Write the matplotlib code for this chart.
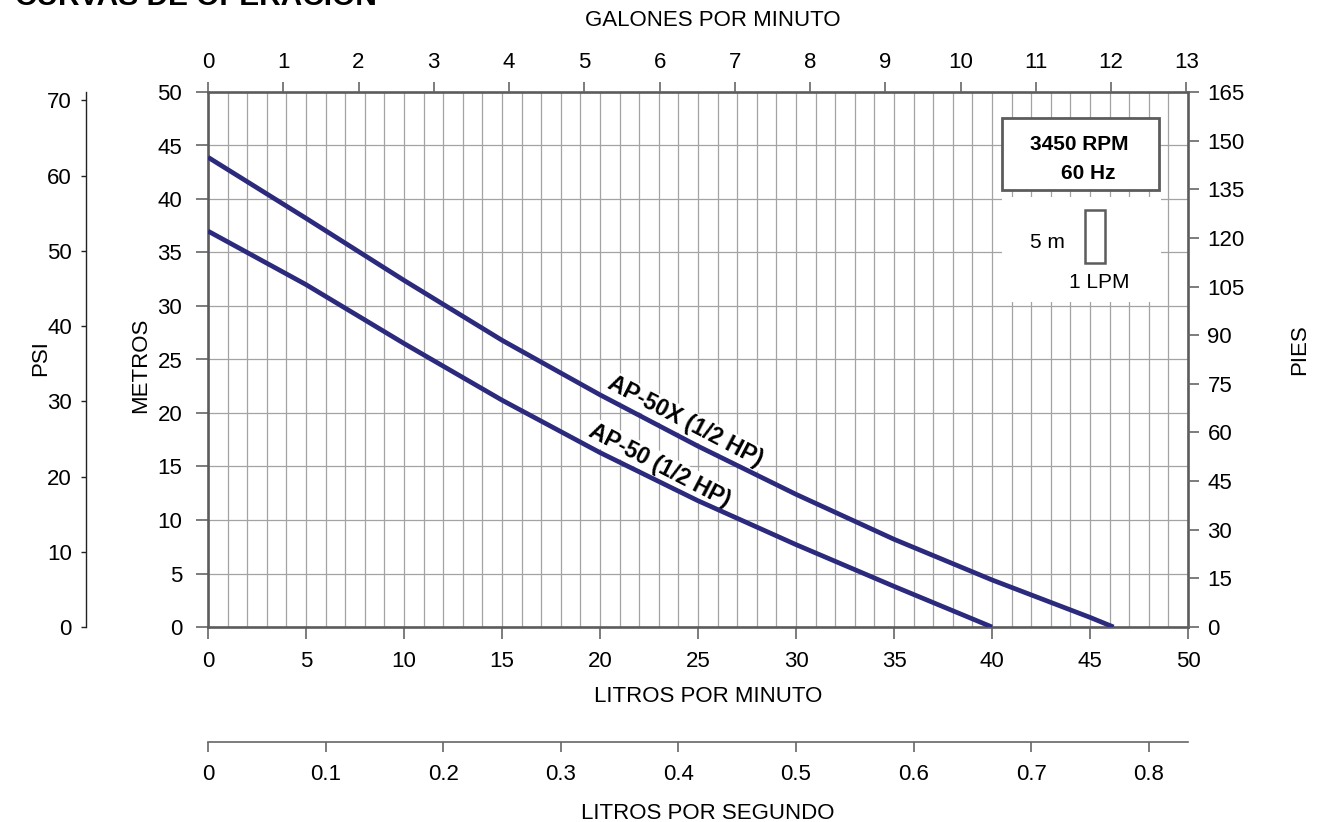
import matplotlib

matplotlib.use("Agg")
import matplotlib.pyplot as plt
from matplotlib.patches import Rectangle
from matplotlib.ticker import MultipleLocator, FuncFormatter

plt.rcParams["font.family"] = ["Liberation Sans", "DejaVu Sans"]

# --- curve data ---------------------------------------------------------
lpm_ap50x = [0, 5, 10, 15, 20, 25, 30, 35, 40, 45, 46.2]
m_ap50x = [43.9, 38.2, 32.4, 26.8, 21.7, 16.9, 12.4, 8.2, 4.4, 0.9, 0.0]
lpm_ap50 = [0, 5, 10, 15, 20, 25, 30, 35, 40]
m_ap50 = [37.0, 32.0, 26.5, 21.2, 16.3, 11.8, 7.7, 3.8, 0.0]

# --- axis scales ----------------------------------------------------------
lpm_ticks = list(range(0, 51, 5))
m_ticks = list(range(0, 51, 5))
gpm_ticks = list(range(0, 14))
lps_ticks = [0, 0.1, 0.2, 0.3, 0.4, 0.5, 0.6, 0.7, 0.8]
psi_ticks = [0, 10, 20, 30, 40, 50, 60, 70]
ft_ticks = list(range(0, 166, 15))
LPM_PER_GPM = 3.84
PSI_PER_M = 1.422
FT_PER_M = 3.3

CURVE = "#2c2a7c"
GRID = "#a3a3a3"
FRAME = "#5c5c5c"
TICK = "#666666"
FS = 16

W, H = 1330, 822
fig = plt.figure(figsize=(W / 100, H / 100), dpi=100)
ax = fig.add_axes([208 / W, 195 / H, 980 / W, 535 / H])

# main axes: LPM vs metres
ax.set_xlim(0, 50)
ax.set_ylim(0, 50)
ax.set_xticks(lpm_ticks)
ax.set_yticks(m_ticks)
ax.xaxis.set_minor_locator(MultipleLocator(1))
ax.set_axisbelow(True)
ax.grid(True, which="both", axis="x", color=GRID, lw=0.9)
ax.grid(True, which="major", axis="y", color=GRID, lw=0.9)
ax.tick_params(which="major", direction="out", length=8.6, width=1.2,
               color=TICK, labelsize=FS)
ax.tick_params(axis="x", which="major", pad=9)
ax.tick_params(axis="y", which="major", pad=10)
ax.tick_params(which="minor", length=0)
for s in ax.spines.values():
    s.set_color(FRAME)
    s.set_linewidth(1.9)

ax.plot(lpm_ap50x, m_ap50x, color=CURVE, lw=3.4, zorder=5,
        solid_capstyle="butt", solid_joinstyle="round")
ax.plot(lpm_ap50, m_ap50, color=CURVE, lw=3.4, zorder=5,
        solid_capstyle="butt", solid_joinstyle="round")

lbl_box = dict(facecolor="white", edgecolor="none", pad=1.0)
ax.text(24.34, 19.2, "AP-50X (1/2 HP)", rotation=-27.5, ha="center",
        va="center", fontsize=16.5, fontweight="bold", bbox=lbl_box,
        rotation_mode="anchor", zorder=4)
ax.text(23.06, 15.1, "AP-50 (1/2 HP)", rotation=-27.5, ha="center",
        va="center", fontsize=16.5, fontweight="bold", bbox=lbl_box,
        rotation_mode="anchor", zorder=4)

# legend / scale key
ax.add_patch(Rectangle((40.5, 30.4), 8.1, 9.75, facecolor="white",
                       edgecolor="none", zorder=2))
ax.add_patch(Rectangle((40.5, 40.84), 8.0, 6.7, facecolor="white",
                       edgecolor=FRAME, lw=2.0, zorder=3))
ax.text(44.46, 45.05, "3450 RPM", ha="center", va="center", fontsize=15,
        fontweight="bold", zorder=4)
ax.text(44.93, 42.4, "60 Hz", ha="center", va="center", fontsize=15,
        fontweight="bold", zorder=4)
ax.add_patch(Rectangle((44.75, 34.0), 1.0, 5.0, facecolor="none",
                       edgecolor=FRAME, lw=1.8, zorder=3))
ax.text(42.84, 35.93, "5 m", ha="center", va="center", fontsize=15, zorder=4)
ax.text(45.46, 32.2, "1 LPM", ha="center", va="center", fontsize=15, zorder=4)

ax.set_xlabel("LITROS POR MINUTO", fontsize=FS)
ax.xaxis.set_label_coords(0.51, -0.129)
ax.xaxis.label.set_va("center")
ax.set_ylabel("METROS", fontsize=FS)
ax.yaxis.set_label_coords(-0.0684, 0.49)
ax.yaxis.label.set_va("center")


def bare(a):
    for s in a.spines.values():
        s.set_visible(False)


# right: feet
ax_ft = ax.twinx()
bare(ax_ft)
ax_ft.set_ylim(0, 50 * FT_PER_M)
ax_ft.set_yticks(ft_ticks)
ax_ft.tick_params(direction="out", length=8, width=1.2, color=TICK,
                  labelsize=FS, pad=6)
ax_ft.set_ylabel("PIES", fontsize=FS)
ax_ft.yaxis.set_label_coords(1.114, 0.518)
ax_ft.yaxis.label.set_va("center")

# far left: psi
ax_psi = ax.twinx()
bare(ax_psi)
ax_psi.set_ylim(0, 50 * PSI_PER_M)
ax_psi.set_yticks(psi_ticks)
ax_psi.yaxis.set_ticks_position("left")
ax_psi.yaxis.set_label_position("left")
ax_psi.spines["left"].set_visible(True)
ax_psi.spines["left"].set_position(("axes", -0.1245))
ax_psi.spines["left"].set_color("#222222")
ax_psi.spines["left"].set_linewidth(1.0)
ax_psi.tick_params(direction="out", length=3.6, width=1.0, color="#222222",
                   labelsize=FS, pad=6.5)
ax_psi.set_ylabel("PSI", fontsize=FS)
ax_psi.yaxis.set_label_coords(-0.171, 0.503)
ax_psi.yaxis.label.set_va("center")

# top: gallons per minute
ax_gpm = ax.twiny()
bare(ax_gpm)
ax_gpm.set_xlim(0, 50 / LPM_PER_GPM)
ax_gpm.set_xticks(gpm_ticks)
ax_gpm.tick_params(direction="out", length=7, width=1.2, color=TICK,
                   labelsize=FS, pad=6.5)
ax_gpm.set_xlabel("GALONES POR MINUTO", fontsize=FS)
ax_gpm.xaxis.set_label_coords(0.515, 1.134)
ax_gpm.xaxis.label.set_va("center")

# lower: litres per second
ax_lps = ax.twiny()
bare(ax_lps)
ax_lps.set_xlim(0, 50 / 60)
ax_lps.xaxis.set_ticks_position("bottom")
ax_lps.xaxis.set_label_position("bottom")
ax_lps.spines["bottom"].set_visible(True)
ax_lps.spines["bottom"].set_position(("axes", -115 / 535))
ax_lps.spines["bottom"].set_color(TICK)
ax_lps.spines["bottom"].set_linewidth(1.2)
ax_lps.set_xticks(lps_ticks)
ax_lps.xaxis.set_major_formatter(FuncFormatter(lambda v, _: f"{v:g}"))
ax_lps.tick_params(direction="out", length=7.5, width=1.2, color=TICK,
                   labelsize=FS, pad=8.6)
ax_lps.set_xlabel("LITROS POR SEGUNDO", fontsize=FS)
ax_lps.xaxis.set_label_coords(0.51, -0.348)
ax_lps.xaxis.label.set_va("center")

fig.text(15 / W, 1 - 5 / H, "CURVAS DE OPERACIÓN", fontsize=21.5,
         fontweight="bold", ha="left", va="baseline")

fig.savefig("out.png", dpi=100)
